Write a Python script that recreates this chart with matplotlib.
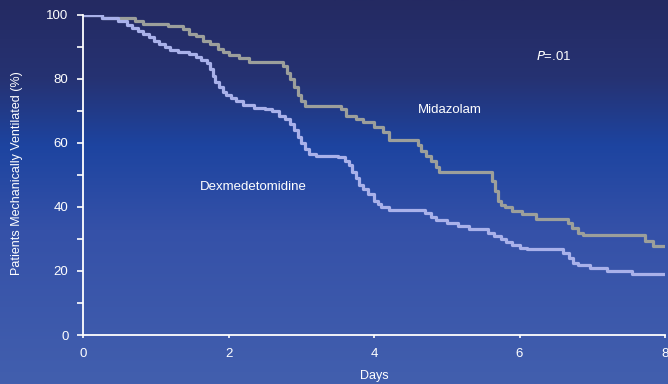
import numpy as np
import matplotlib
matplotlib.use('Agg')
import matplotlib.pyplot as plt
from matplotlib.colors import LinearSegmentedColormap
from matplotlib.ticker import MultipleLocator

plt.rcParams['font.family'] = ['Liberation Sans', 'DejaVu Sans']

### Kaplan-Meier style step data (days, % still ventilated)
mid_days = [0, 0.26, 0.72, 0.82, 1.17, 1.38, 1.45, 1.55, 1.65, 1.75, 1.85, 1.92,
            2.0, 2.15, 2.28, 2.75, 2.80, 2.85, 2.90, 2.95, 3.0, 3.05, 3.55, 3.62,
            3.75, 3.85, 4.0, 4.12, 4.2, 4.6, 4.65, 4.72, 4.78, 4.85, 4.9, 5.62,
            5.66, 5.70, 5.74, 5.80, 5.9, 6.04, 6.22, 6.67, 6.72, 6.8, 6.87, 7.73,
            7.84, 8.0]
mid_pct = [100, 99, 98, 97.3, 96.5, 95.5, 94, 93.5, 92, 91, 89.5, 88.5,
           87.5, 86.5, 85.2, 84, 82, 80, 77.5, 75, 73, 71.5, 70.5, 68.5,
           67.5, 66.5, 65, 63.5, 61, 59.5, 57.5, 56, 54.5, 52.5, 50.8, 48,
           45, 42, 40.5, 40, 38.7, 37.8, 36.3, 35, 33.5, 32, 31.2, 29.4,
           27.8, 27.8]

dex_days = [0, 0.26, 0.48, 0.6, 0.68, 0.75, 0.82, 0.9, 0.97, 1.05, 1.12, 1.2,
            1.3, 1.45, 1.55, 1.62, 1.70, 1.75, 1.78, 1.82, 1.87, 1.92, 1.97,
            2.03, 2.1, 2.2, 2.35, 2.5, 2.6, 2.7, 2.78, 2.85, 2.9, 2.95, 3.0,
            3.05, 3.1, 3.2, 3.5, 3.6, 3.65, 3.7, 3.75, 3.8, 3.85, 3.92, 4.0,
            4.05, 4.1, 4.2, 4.7, 4.78, 4.85, 5.0, 5.15, 5.3, 5.57, 5.65, 5.75,
            5.82, 5.9, 6.0, 6.1, 6.6, 6.68, 6.74, 6.8, 6.97, 7.2, 7.55, 8.0]
dex_pct = [100, 99, 98, 97, 96, 95, 94, 93, 92, 91, 90, 89,
           88.3, 87.8, 87, 86, 85, 83, 81, 79, 77.5, 76, 75,
           74, 73, 72, 71, 70.5, 70, 68.5, 67.5, 66, 64, 62, 60,
           58, 56.5, 56, 55.5, 54.5, 53, 51, 49, 47, 45.5, 44, 42,
           41, 40, 39, 38, 37, 36, 35, 34, 33, 32, 31, 30,
           29, 28, 27.2, 26.9, 25.5, 24, 22.5, 22, 21, 20, 19, 19]

fig = plt.figure(figsize=(6.68, 3.84), dpi=100)

# blue gradient backdrop: dark navy at top, brighter band mid-way, lighter at bottom
bg = fig.add_axes([0, 0, 1, 1], zorder=0)
grad = LinearSegmentedColormap.from_list('bg', [(0.0, '#242a62'), (0.2, '#263272'),
                                               (0.38, '#1d44a0'), (0.6, '#3551a8'),
                                               (1.0, '#425fae')])
bg.imshow(np.linspace(0, 1, 256).reshape(-1, 1), aspect='auto', cmap=grad,
          extent=[0, 1, 0, 1], origin='upper')
bg.axis('off')

ax = fig.add_axes([0.1243, 0.1276, 0.8712, 0.8334], zorder=1)
ax.patch.set_alpha(0)
ax.plot(mid_days, mid_pct, drawstyle='steps-post', color='#9c9f9b', lw=2.3)
ax.plot(dex_days, dex_pct, drawstyle='steps-post', color='#a9b1ea', lw=2.3)

ax.set_xlim(0, 8)
ax.set_ylim(0, 100)
ax.xaxis.set_major_locator(MultipleLocator(2))
ax.yaxis.set_major_locator(MultipleLocator(20))
ax.yaxis.set_minor_locator(MultipleLocator(10))
for s in ['top', 'right']:
    ax.spines[s].set_visible(False)
for s in ['left', 'bottom']:
    ax.spines[s].set_color('white')
    ax.spines[s].set_linewidth(1.3)
    ax.spines[s].set_zorder(5)
ax.tick_params(axis='y', which='both', direction='out', length=4.5, width=1.2,
               color='white', labelcolor='white', labelsize=9.5, pad=6)
ax.tick_params(axis='x', direction='out', length=2.5, width=1.2,
               color='white', labelcolor='white', labelsize=9.5, pad=6.5)

ax.set_ylabel('Patients Mechanically Ventilated (%)', color='white', fontsize=9)
ax.yaxis.set_label_coords(-0.103, 0.505)
ax.set_xlabel('Days', color='white', fontsize=9, labelpad=7.5)

ax.text(2.34, 46.3, 'Dexmedetomidine', color='white', fontsize=9.5, ha='center', va='center')
ax.text(5.04, 70.3, 'Midazolam', color='white', fontsize=9.5, ha='center', va='center')
ax.text(6.47, 86.9, r'$\mathit{P}$=.01', color='white', fontsize=9.5, ha='center', va='center')

plt.savefig('out.png', dpi=100)
